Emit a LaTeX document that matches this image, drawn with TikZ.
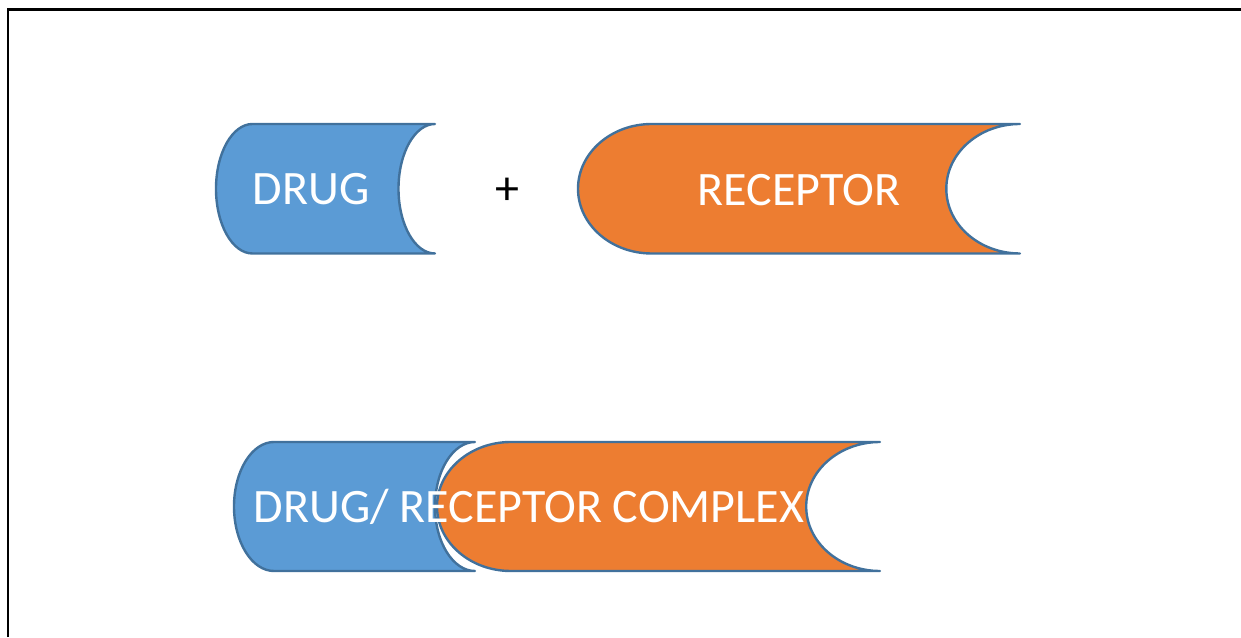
\documentclass[tikz,border=0pt]{standalone}
\usepackage{fontspec}
\setmainfont{Carlito}
\definecolor{drugblue}{HTML}{5B9BD5}
\definecolor{recorange}{HTML}{ED7D31}
\definecolor{edgeblue}{HTML}{41719C}
\tikzset{
  storedata/.style={draw=edgeblue, line width=2.4pt, line join=round},
  label/.style={text=white, font=\fontsize{48}{57}\selectfont, anchor=base, inner sep=0pt},
}
% stored-data outline: #1 left, #2 right, #3 top, #4 bottom, #5 arc depth
\newcommand{\storedpath}[5]{%
  (#1+#5,#3) -- (#2,#3)
  arc[start angle=90, end angle=270, x radius=#5, y radius={(#3-#4)/2}]
  -- (#1+#5,#4)
  arc[start angle=270, end angle=90, x radius=#5, y radius={(#3-#4)/2}]
  -- cycle}
\begin{document}
\begin{tikzpicture}[x=1pt,y=1pt]
\useasboundingbox (0,0) rectangle (1241,637);
% page frame
\draw[line width=2.2pt] (8,0) -- (8,627.5) -- (1241,627.5);
% top row
\fill[drugblue] \storedpath{216}{435}{513}{383.5}{36.5};
\draw[storedata] \storedpath{216}{435}{513}{383.5}{36.5};
\node[label] (drug) at (311,432) {DRUG};
\node[label, text=black] (plus) at (507,432) {+};
\fill[recorange] \storedpath{578}{1020}{513}{383.5}{73.7};
\draw[storedata] \storedpath{578}{1020}{513}{383.5}{73.7};
\node[label] (receptor) at (799,431) {RECEPTOR};
% bottom row: bound complex
\fill[drugblue] \storedpath{234}{475}{195}{66}{40};
\draw[storedata] \storedpath{234}{475}{195}{66}{40};
\fill[recorange] \storedpath{437}{880}{195}{66}{73.8};
\draw[storedata] \storedpath{437}{880}{195}{66}{73.8};
\node[label] (complex) at (529,114) {DRUG/ RECEPTOR COMPLEX};
\end{tikzpicture}
\end{document}
